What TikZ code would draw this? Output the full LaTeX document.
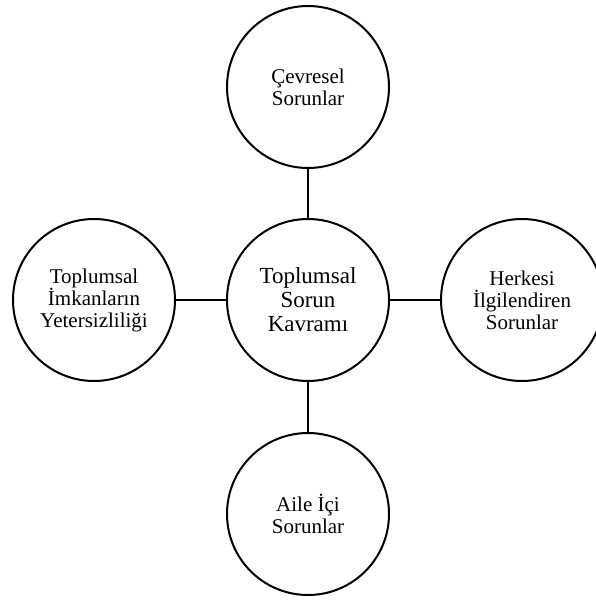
\documentclass[tikz,border=0pt]{standalone}
\usepackage{fontspec}
\setmainfont{Liberation Serif}
\begin{document}
\begin{tikzpicture}[x=1pt,y=-1pt,
  bubble/.style={circle,draw=black,line width=2pt,minimum size=162pt,inner sep=0pt,align=center,
    font=\fontsize{21}{22}\selectfont},
  hub/.style={bubble,font=\fontsize{23}{24}\selectfont},
  link/.style={line width=2pt}]
\useasboundingbox (0,0) rectangle (595,601);
\node[hub] (c) at (308,300) {Toplumsal\\Sorun\\Kavramı};
\node[bubble] (t) at (308,87) {Çevresel\\Sorunlar};
\node[bubble] (l) at (94,300) {Toplumsal\\İmkanların\\Yetersizliliği};
\node[bubble] (r) at (522,300) {Herkesi\\İlgilendiren\\Sorunlar};
\node[bubble] (b) at (308,514) {Aile İçi\\Sorunlar};
\draw[link] (t) -- (c);
\draw[link] (l) -- (c);
\draw[link] (c) -- (r);
\draw[link] (c) -- (b);
\end{tikzpicture}
\end{document}
